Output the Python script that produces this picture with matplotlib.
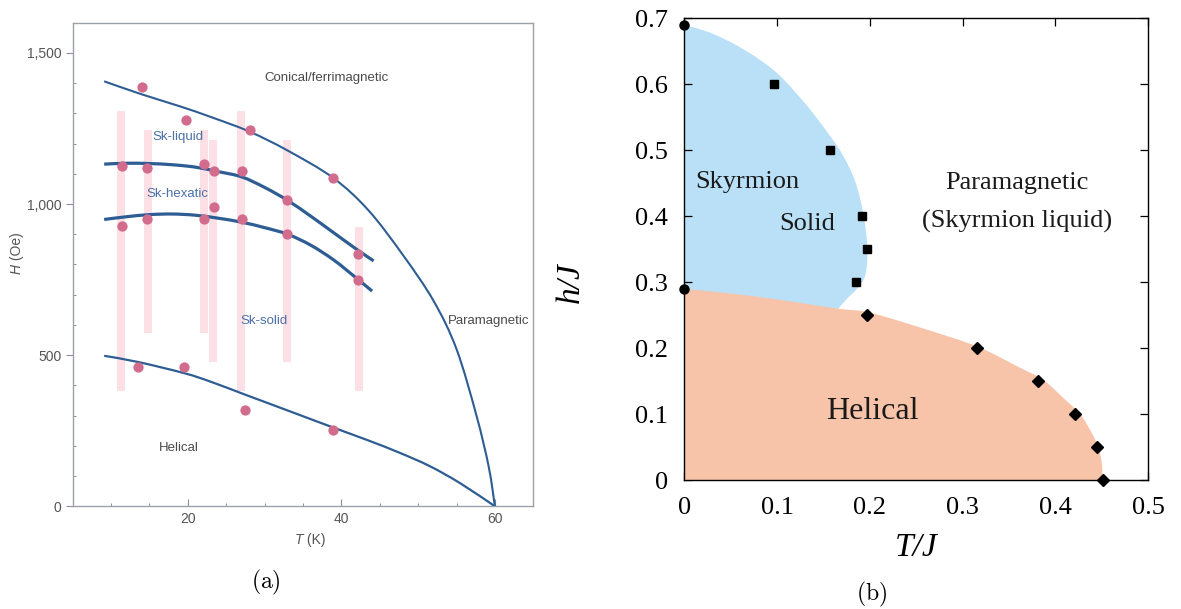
import matplotlib
matplotlib.use("Agg")
import matplotlib.pyplot as plt
from matplotlib.path import Path
from matplotlib.patches import PathPatch
from matplotlib.ticker import MultipleLocator, FixedLocator, FuncFormatter

# ---------------- panel (a): experimental phase diagram ----------------
# measured transition points
dot_T = [14.0, 19.7, 11.4, 14.7, 22.1, 23.45, 27.06, 28.06, 32.9, 38.9,
         23.45, 11.4, 14.7, 22.1, 27.06, 32.9, 42.2, 42.2, 13.55, 19.55,
         27.4, 38.95]
dot_H = [1388, 1277, 1127, 1120, 1131, 1109, 1109, 1246, 1013, 1085,
         989, 928, 949, 949, 949, 900, 835, 749, 462, 462, 319, 253]

# field windows scanned at fixed temperature
scan_T = [11.3, 14.8, 22.1, 23.3, 26.9, 32.9, 42.3]
scan_low = [381, 574, 574, 478, 382, 478, 382]
scan_high = [1309, 1245, 1245, 1212, 1307, 1212, 924]

# phase boundaries
conical_T = [9.1, 14.0, 19.0, 23.0, 28.0, 33.0, 38.9, 43.5, 48.0, 52.0,
             55.0, 57.6, 59.2, 60.0]
conical_H = [1406, 1363, 1323, 1288, 1240, 1177, 1087, 980, 832, 680,
             520, 300, 130, 0]
liquid_T = [9.1, 12, 15, 18, 21, 24, 27, 30, 33, 36, 39, 42, 44.2]
liquid_H = [1132, 1135, 1134, 1130, 1122, 1107, 1090, 1055, 1012, 960, 905,
            850, 812]
hexatic_T = [9.1, 12, 15, 18, 21, 24, 27, 30, 33, 36, 39, 42, 44.0]
hexatic_H = [949, 958, 965, 967, 963, 953, 940, 922, 900, 864, 815, 754, 712]
helical_T = [9.1, 13.6, 19.6, 23.0, 27.4, 33.0, 39.0, 43.5, 47.5, 51.5,
             55.5, 60.0]
helical_H = [498, 477, 440, 412, 370, 317, 260, 218, 178, 133, 76, 0]

# ---------------- panel (b): simulated phase diagram ----------------
solid_T = [0.097, 0.157, 0.1914, 0.1967, 0.185]
solid_h = [0.6, 0.5, 0.4, 0.35, 0.3]
helix_T = [0.1967, 0.316, 0.381, 0.4208, 0.4452, 0.4513]
helix_h = [0.25, 0.2, 0.15, 0.1, 0.05, 0.0]
edge_T = [0.0, 0.0]
edge_h = [0.69, 0.29]

solid_edge_T = [0.0, 0.03, 0.065, 0.1, 0.132, 0.157, 0.172, 0.185, 0.1935,
                0.1975, 0.195, 0.186, 0.176, 0.166]
solid_edge_h = [0.69, 0.677, 0.652, 0.617, 0.568, 0.522, 0.49, 0.45, 0.4,
                0.35, 0.31, 0.29, 0.276, 0.26]
helix_edge_T = [0.0, 0.05, 0.1, 0.166, 0.2, 0.26, 0.316, 0.36, 0.387, 0.41,
                0.427, 0.44, 0.447, 0.4505, 0.451]
helix_edge_h = [0.29, 0.283, 0.274, 0.26, 0.254, 0.229, 0.2025, 0.172, 0.152,
                0.123, 0.10, 0.07, 0.048, 0.022, 0.0]

x_ticks_b = [0, 0.1, 0.2, 0.3, 0.4, 0.5]
x_labels_b = ["0", "0.1", "0.2", "0.3", "0.4", "0.5"]
y_ticks_b = [0, 0.1, 0.2, 0.3, 0.4, 0.5, 0.6, 0.7]
y_labels_b = ["0", "0.1", "0.2", "0.3", "0.4", "0.5", "0.6", "0.7"]


def spline_segments(xs, ys):
    """Cubic Bezier vertices/codes of a Catmull-Rom curve through the points
    (without the leading MOVETO)."""
    pts = list(zip(xs, ys))
    n = len(pts)
    verts, codes = [], []
    for i in range(n - 1):
        p0 = pts[i - 1] if i > 0 else pts[i]
        p1 = pts[i]
        p2 = pts[i + 1]
        p3 = pts[i + 2] if i + 2 < n else pts[i + 1]
        c1 = (p1[0] + (p2[0] - p0[0]) / 6, p1[1] + (p2[1] - p0[1]) / 6)
        c2 = (p2[0] - (p3[0] - p1[0]) / 6, p2[1] - (p3[1] - p1[1]) / 6)
        verts += [c1, c2, p2]
        codes += [Path.CURVE4] * 3
    return verts, codes


def curve_path(xs, ys):
    v, c = spline_segments(xs, ys)
    return Path([(xs[0], ys[0])] + v, [Path.MOVETO] + c)


fig = plt.figure(figsize=(11.81, 6.09), dpi=100)

# ======================= (a) =======================
sans = "Liberation Sans"
line_c = "#2d5d93"
axa = fig.add_axes([0.06156, 0.16864, 0.39, 0.79409])
axa.set_xlim(5, 65)
axa.set_ylim(0, 1600)

axa.bar(scan_T, [hi - lo for lo, hi in zip(scan_low, scan_high)],
        bottom=scan_low, width=1.1, color="#fde0e6", zorder=1)
for xs, ys, lw in [(conical_T, conical_H, 1.5), (liquid_T, liquid_H, 2.3),
                   (hexatic_T, hexatic_H, 2.3), (helical_T, helical_H, 1.6)]:
    axa.add_patch(PathPatch(curve_path(xs, ys), fill=False, edgecolor=line_c,
                            lw=lw, zorder=3, capstyle="butt"))
axa.plot(dot_T, dot_H, "o", ms=7.4, color="#d26c8c", mec="none", zorder=4)

gray_txt = "#4a4a4a"
blue_txt = "#4a70a8"
axa.text(38.1, 1418, "Conical/ferrimagnetic", color=gray_txt, fontsize=9.5,
         family=sans, ha="center", va="center")
axa.text(18.65, 1223, "Sk-liquid", color=blue_txt, fontsize=9.5,
         family=sans, ha="center", va="center")
axa.text(18.7, 1033, "Sk-hexatic", color=blue_txt, fontsize=9.5,
         family=sans, ha="center", va="center")
axa.text(29.95, 613, "Sk-solid", color=blue_txt, fontsize=9.5,
         family=sans, ha="center", va="center")
axa.text(59.15, 613, "Paramagnetic", color=gray_txt, fontsize=9.5,
         family=sans, ha="center", va="center")
axa.text(18.8, 194, "Helical", color=gray_txt, fontsize=9.5,
         family=sans, ha="center", va="center")

axa.xaxis.set_major_locator(FixedLocator([20, 40, 60]))
axa.xaxis.set_minor_locator(MultipleLocator(5))
axa.yaxis.set_major_locator(MultipleLocator(500))
axa.yaxis.set_minor_locator(MultipleLocator(100))
axa.yaxis.set_major_formatter(FuncFormatter(lambda v, p: f"{int(v):,}"))
axa.tick_params(axis="x", which="major", direction="in", length=5, width=0.8,
                color="#8a9099", labelsize=10, labelcolor="#555555", pad=4)
axa.tick_params(axis="x", which="minor", direction="in", length=2.5,
                width=0.7, color="#8a9099")
axa.tick_params(axis="y", which="major", direction="out", length=5, width=0.8,
                color="#8a9099", labelsize=10, labelcolor="#555555", pad=3)
axa.tick_params(axis="y", which="minor", direction="in", length=2.5,
                width=0.7, color="#8a9099")
for lab in axa.get_xticklabels() + axa.get_yticklabels():
    lab.set_family(sans)
for sp in axa.spines.values():
    sp.set_color("#9aa1a9")
    sp.set_linewidth(1.0)

axa.text(0.5, -0.0697, "T", transform=axa.transAxes, ha="right",
         va="center", fontsize=10, color="#555555", family=sans,
         style="italic")
axa.text(0.5, -0.0697, " (K)", transform=axa.transAxes, ha="left",
         va="center", fontsize=10, color="#555555", family=sans)
axa.text(-0.122, 0.5, "H", transform=axa.transAxes, ha="center",
         va="top", rotation=90, fontsize=10, color="#555555", family=sans,
         style="italic")
axa.text(-0.122, 0.5, " (Oe)", transform=axa.transAxes, ha="center",
         va="bottom", rotation=90, fontsize=10, color="#555555", family=sans)

# ======================= (b) =======================
serif = "Liberation Serif"
axb = fig.add_axes([0.57942, 0.21133, 0.39263, 0.75862])
axb.set_xlim(0, 0.5)
axb.set_ylim(0, 0.7)

# skyrmion-solid region: left axis plus the rounded right edge
v, c = spline_segments(solid_edge_T, solid_edge_h)
blue_path = Path([(0.0, solid_edge_h[0])] + v +
                 [(0.0, solid_edge_h[-1]), (0.0, solid_edge_h[0])],
                 [Path.MOVETO] + c + [Path.LINETO, Path.CLOSEPOLY])
axb.add_patch(PathPatch(blue_path, facecolor="#b9e0f6", lw=0, zorder=1))

# helical region: below its upper boundary
v, c = spline_segments(helix_edge_T, helix_edge_h)
orange_path = Path([(0.0, 0.0), (helix_edge_T[0], helix_edge_h[0])] + v +
                   [(0.0, 0.0)],
                   [Path.MOVETO, Path.LINETO] + c + [Path.CLOSEPOLY])
axb.add_patch(PathPatch(orange_path, facecolor="#f7c4a9", lw=0, zorder=2))

axb.plot(solid_T, solid_h, "s", ms=6.3, color="black", zorder=5)
axb.plot(helix_T, helix_h, "D", ms=6.0, color="black", zorder=5,
         clip_on=False)
axb.plot(edge_T, edge_h, "o", ms=6.5, color="black", zorder=5,
         clip_on=False)

axb.text(0.0678, 0.4525, "Skyrmion", family=serif, fontsize=19,
         ha="center", va="center", color="#1a1a1a")
axb.text(0.132, 0.388, "Solid", family=serif, fontsize=19,
         ha="center", va="center", color="#1a1a1a")
axb.text(0.359, 0.45, "Paramagnetic", family=serif, fontsize=19,
         ha="center", va="center", color="#1a1a1a")
axb.text(0.359, 0.392, "(Skyrmion liquid)", family=serif, fontsize=19,
         ha="center", va="center", color="#1a1a1a")
axb.text(0.203, 0.104, "Helical", family=serif, fontsize=23,
         ha="center", va="center", color="#1a1a1a")

axb.set_xticks(x_ticks_b)
axb.set_xticklabels(x_labels_b)
axb.set_yticks(y_ticks_b)
axb.set_yticklabels(y_labels_b)
axb.tick_params(direction="in", top=True, right=True, length=5.5, width=0.9,
                labelsize=19, pad=12)
for lab in axb.get_xticklabels() + axb.get_yticklabels():
    lab.set_family(serif)
for sp in axb.spines.values():
    sp.set_linewidth(1.0)
    sp.set_zorder(6)

axb.text(0.5, -0.145, "T/J", transform=axb.transAxes, ha="center",
         va="center", fontsize=24, family=serif, style="italic")
axb.text(-0.246, 0.427, "h/J", transform=axb.transAxes, ha="center",
         va="center", fontsize=24, family=serif, style="italic", rotation=90)

# panel captions
plt.rcParams["mathtext.fontset"] = "cm"
fig.text(266 / 1181, 1 - 582 / 609, r"$\mathrm{(a)}$", ha="center",
         va="center", fontsize=17)
fig.text(872 / 1181, 1 - 594 / 609, r"$\mathrm{(b)}$", ha="center",
         va="center", fontsize=17)

fig.savefig("out.png", dpi=100)
